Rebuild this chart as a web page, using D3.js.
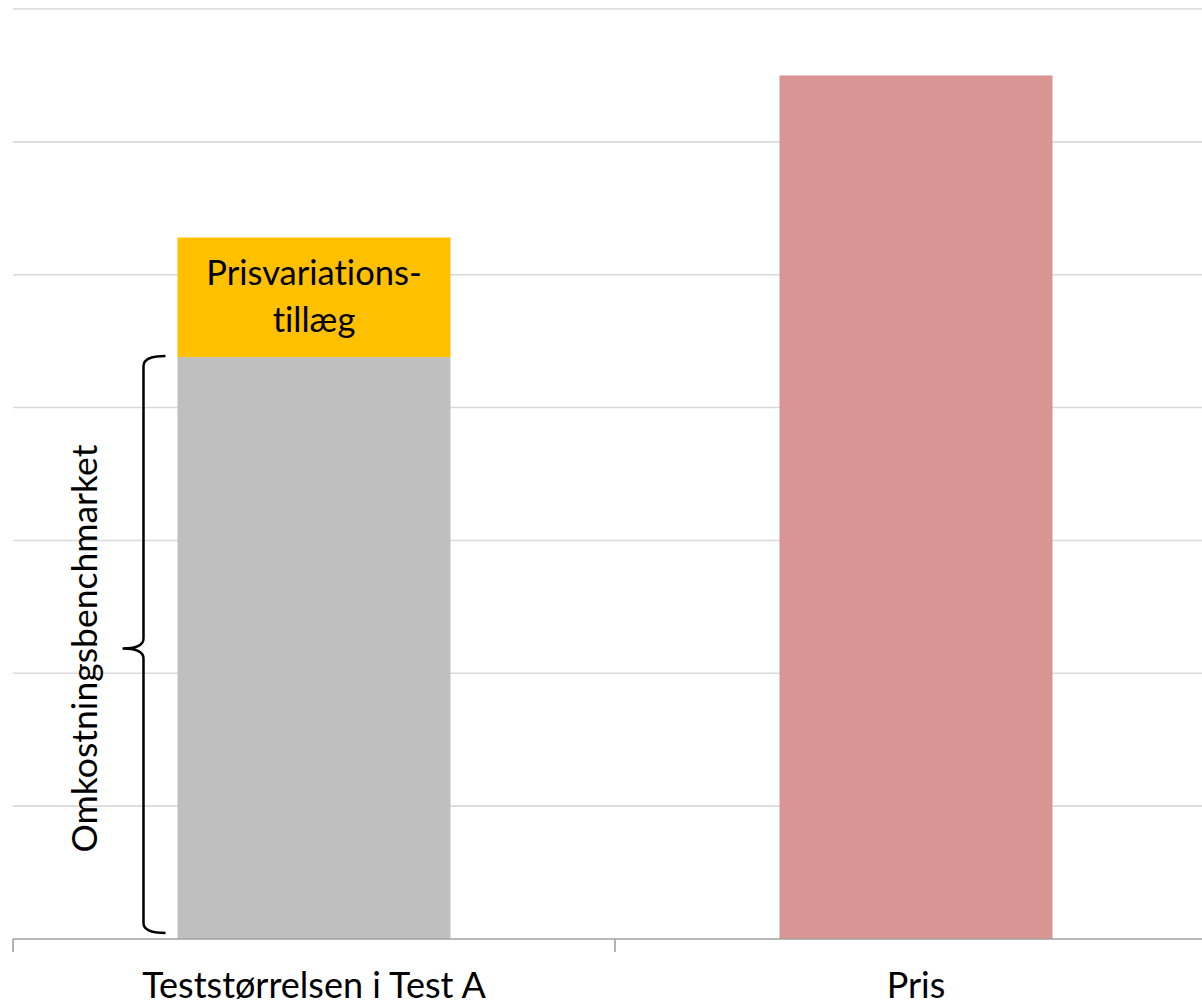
<!DOCTYPE html>
<html>
<head>
<meta charset="utf-8">
<script src="https://cdn.jsdelivr.net/npm/d3@7"></script>
<style>
  html, body { margin: 0; padding: 0; background: #ffffff; overflow: hidden; }
  svg { display: block; }
  text { font-family: Lato, "Open Sans", sans-serif; fill: #000; font-variant-ligatures: none; }
</style>
</head>
<body>
<svg id="chart" width="1202" height="1004"></svg>
<script>
// ---- data ----
const categories = ["Teststørrelsen i Test A", "Pris"];
const benchmarkValues = [4.38, 0];      // grey segment (Omkostningsbenchmarket)
const supplementValues = [0.90, 0];     // orange segment (Prisvariationstillæg)
const priceValues = [0, 6.50];          // pink bar (Pris)
const yTicks = [0, 1, 2, 3, 4, 5, 6, 7];
const supplementLabel = ["Prisvariations-", "tillæg"];
const braceLabel = "Omkostningsbenchmarket";

// ---- layout ----
const svg = d3.select("#chart");
const plotLeft = 13, plotRight = 1217, plotTop = 9, plotBottom = 939;

const x = d3.scaleBand().domain(categories).range([plotLeft, plotRight])
  .paddingInner(0.5465).paddingOuter(0.27325);
const y = d3.scaleLinear().domain([0, 7]).range([plotBottom, plotTop]);

// gridlines
svg.append("g").selectAll("line").data(yTicks.filter(d => d > 0)).join("line")
  .attr("x1", plotLeft).attr("x2", plotRight)
  .attr("y1", d => y(d)).attr("y2", d => y(d))
  .attr("stroke", "#d9d9d9").attr("stroke-width", 1.6);

// bars
const rows = categories.map((c, i) => ({ c, b: benchmarkValues[i], s: supplementValues[i], p: priceValues[i] }));
const g = svg.append("g");
g.selectAll("rect.bench").data(rows.filter(d => d.b > 0)).join("rect")
  .attr("x", d => x(d.c)).attr("width", x.bandwidth())
  .attr("y", d => y(d.b)).attr("height", d => y(0) - y(d.b))
  .attr("fill", "#bfbfbf");
g.selectAll("rect.sup").data(rows.filter(d => d.s > 0)).join("rect")
  .attr("x", d => x(d.c)).attr("width", x.bandwidth())
  .attr("y", d => y(d.b + d.s)).attr("height", d => y(d.b) - y(d.b + d.s))
  .attr("fill", "#ffc000");
g.selectAll("rect.price").data(rows.filter(d => d.p > 0)).join("rect")
  .attr("x", d => x(d.c)).attr("width", x.bandwidth())
  .attr("y", d => y(d.p)).attr("height", d => y(0) - y(d.p))
  .attr("fill", "#d99594");

// x axis
const ax = svg.append("g").attr("transform", `translate(0,${plotBottom})`);
ax.append("line").attr("x1", plotLeft).attr("x2", plotRight).attr("stroke", "#a0a0a0").attr("stroke-width", 1.6);
const boundaries = [plotLeft, ...categories.map(c => x(c) + x.bandwidth() + x.step() * x.paddingInner() / 2)];
ax.selectAll("line.tick").data(boundaries).join("line")
  .attr("x1", d => d).attr("x2", d => d).attr("y1", 0).attr("y2", 13)
  .attr("stroke", "#a0a0a0").attr("stroke-width", 1.6);
ax.selectAll("text").data(categories).join("text")
  .attr("x", d => x(d) + x.bandwidth() / 2).attr("y", 59)
  .attr("text-anchor", "middle").attr("font-size", 36)
  .text(d => d);

// supplement label
const sup = rows[0];
const cx = x(sup.c) + x.bandwidth() / 2;
svg.append("text").attr("text-anchor", "middle").attr("font-size", 34.5)
  .attr("x", cx).attr("y", y(sup.b + sup.s) + 47)
  .text(supplementLabel[0]);
svg.append("text").attr("text-anchor", "middle").attr("font-size", 34.5)
  .attr("x", cx).attr("y", y(sup.b + sup.s) + 94)
  .text(supplementLabel[1]);

// brace
const bx = x(sup.c);
const yt = y(sup.b) - 1, yb = y(0) - 6, ym = (yt + yb) / 2 + 4;
const vx = bx - 34, hx = bx - 12, tx = bx - 55;
const p = d3.path();
p.moveTo(hx, yt);
p.quadraticCurveTo(vx, yt, vx, yt + 10);
p.lineTo(vx, ym - 10);
p.quadraticCurveTo(vx, ym, tx, ym);
p.quadraticCurveTo(vx, ym, vx, ym + 10);
p.lineTo(vx, yb - 10);
p.quadraticCurveTo(vx, yb, hx, yb);
svg.append("path").attr("d", p.toString()).attr("fill", "none")
  .attr("stroke", "#000").attr("stroke-width", 2.5);

svg.append("text").attr("text-anchor", "middle").attr("font-size", 35.5)
  .attr("transform", `translate(${bx - 80},${ym}) rotate(-90)`)
  .text(braceLabel);
</script>
</body>
</html>
